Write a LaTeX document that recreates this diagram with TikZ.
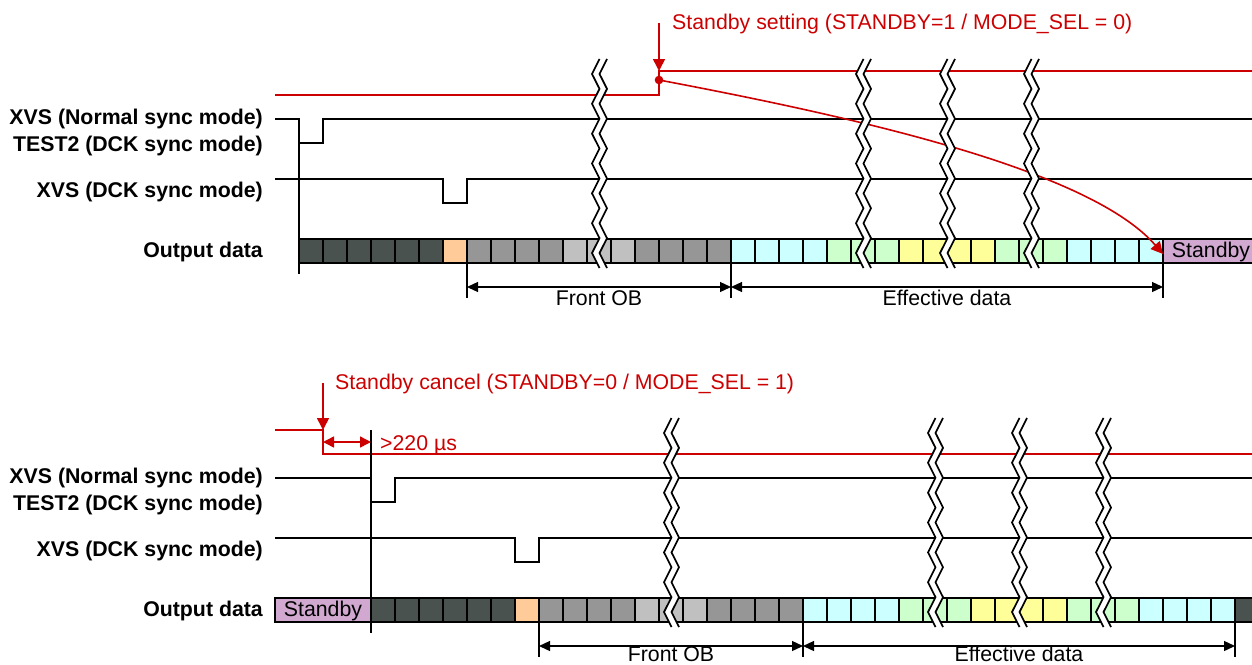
\documentclass[tikz,border=0pt]{standalone}
\usepackage{fontspec}
\setmainfont{Liberation Sans}
\usetikzlibrary{arrows.meta}
\definecolor{rd}{HTML}{CC0000}
\definecolor{cdark}{HTML}{4A5250}
\definecolor{corange}{HTML}{FFCC99}
\definecolor{cgray}{HTML}{969696}
\definecolor{clight}{HTML}{C0C0C0}
\definecolor{ccyan}{HTML}{CCFFFF}
\definecolor{cgreen}{HTML}{CCFFCC}
\definecolor{cyellow}{HTML}{FFFF99}
\definecolor{cstandby}{HTML}{D0A8D0}
\tikzset{
  sig/.style={line width=1.4pt,black,line join=miter},
  redsig/.style={line width=1.5pt,rd},
  cell/.style={draw=black,line width=1.5pt},
  dim/.style={line width=1.3pt,black,{Triangle[length=11pt,width=10pt]}-{Triangle[length=11pt,width=10pt]}},
  ext/.style={line width=1.3pt,black},
  lab/.style={font=\fontsize{21.3pt}{24pt}\selectfont\bfseries,anchor=base east,inner sep=0pt},
  txt/.style={font=\fontsize{21.3pt}{24pt}\selectfont,inner sep=0pt,anchor=base},
  redtxt/.style={txt,text=rd,anchor=base west},
  redarrow/.style={line width=1.6pt,rd,-{Triangle[length=12pt,width=12pt]}},
  redarrows/.style={line width=1.5pt,rd,{Triangle[length=11pt,width=11pt]}-{Triangle[length=11pt,width=11pt]}},
  brk/.style={line width=1.7pt,black,line join=miter},
}
% break mark
\def\zz{-- ++(-7.5,14.93) -- ++(7.5,14.93)}
\def\zr{-- ++(-7.5,-14.93) -- ++(7.5,-14.93)}
\newcommand{\brkmark}[2]{%
  \fill[white] (#1+7.5,#2) \zz\zz\zz\zz\zz\zz\zz -- ++(7.5,0) \zr\zr\zr\zr\zr\zr\zr -- cycle;
  \draw[brk] (#1+7.5,#2) \zz\zz\zz\zz\zz\zz\zz;
  \draw[brk] (#1+15,#2) \zz\zz\zz\zz\zz\zz\zz;
}
% cells: x0, ytop
\newcommand{\cellrun}[5]{% x0, ytop, first index, last index, colour
  \foreach \k in {#3,...,#4} {
    \filldraw[cell,fill=#5] ({#1+24*\k},#2) rectangle ({#1+24*\k+24},#2+24);
  }
}
\newcommand{\allcells}[2]{%
  \cellrun{#1}{#2}{0}{5}{cdark}
  \cellrun{#1}{#2}{6}{6}{corange}
  \cellrun{#1}{#2}{7}{10}{cgray}
  \cellrun{#1}{#2}{11}{13}{clight}
  \cellrun{#1}{#2}{14}{17}{cgray}
  \cellrun{#1}{#2}{18}{21}{ccyan}
  \cellrun{#1}{#2}{22}{24}{cgreen}
  \cellrun{#1}{#2}{25}{28}{cyellow}
  \cellrun{#1}{#2}{29}{31}{cgreen}
  \cellrun{#1}{#2}{32}{35}{ccyan}
}
\begin{document}
\begin{tikzpicture}[x=1pt,y=-1pt]
\useasboundingbox (0,0) rectangle (1252,664);
\clip (0,0) rectangle (1252,664);

% ---------- top diagram ----------
\node[lab] (t1) at (263,124) {XVS (Normal sync mode)};
\node[lab] (t2) at (263,151) {TEST2 (DCK sync mode)};
\node[lab] (t3) at (263,197) {XVS (DCK sync mode)};
\node[lab] (t4) at (263,257) {Output data};
\node[redtxt] (tr) at (672,29.5) {Standby setting (STANDBY=1 / MODE\_SEL = 0)};

\draw[redsig] (275,95) -- (659,95) -- (659,71) -- (1252,71);
\draw[sig] (275,119) -- (299,119) -- (299,143) -- (323,143) -- (323,119) -- (1252,119);
\draw[sig] (275,179) -- (443,179) -- (443,203) -- (467,203) -- (467,179) -- (1252,179);

\allcells{299}{239}
\filldraw[cell,fill=cstandby] (1163,239) rectangle (1262,263);
\node[txt] (ts) at (1211,257) {Standby};
\draw[ext] (299,119) -- (299,274);

\coordinate (a1) at (467,287); \coordinate (a2) at (731,287); \coordinate (a3) at (1163,287);
\draw[ext] (467,263) -- (467,298);
\draw[ext] (731,263) -- (731,298);
\draw[ext] (1163,263) -- (1163,298);
\draw[dim] (a1) -- (a2);
\draw[dim] (a2) -- (a3);
\node[txt] (tf) at (599,305) {Front OB};
\node[txt] (te) at (947,305) {Effective data};

\coordinate (tdot) at (659,80);
\coordinate (tarr) at (659,71);
\coordinate (tst) at (659,23);
\coordinate (tend) at (1163,254);
\draw[redarrow] (tst) -- (tarr);
\draw[redarrow] (tdot) .. controls (860,118) and (1090,170) .. (tend);
\fill[rd] (tdot) circle (4.3);

\brkmark{592}{59}
\brkmark{856}{59}
\brkmark{940}{59}
\brkmark{1024}{59}

% ---------- bottom diagram ----------
\node[lab] (b1) at (263,483) {XVS (Normal sync mode)};
\node[lab] (b2) at (263,510) {TEST2 (DCK sync mode)};
\node[lab] (b3) at (263,556) {XVS (DCK sync mode)};
\node[lab] (b4) at (263,616) {Output data};
\node[redtxt] (br) at (335,389) {Standby cancel (STANDBY=0 / MODE\_SEL = 1)};
\node[redtxt] (bt) at (380,450) {>220 µs};

\draw[redsig] (275,430) -- (323,430) -- (323,454) -- (1252,454);
\draw[sig] (275,478) -- (371,478) -- (371,502) -- (395,502) -- (395,478) -- (1252,478);
\draw[sig] (275,538) -- (515,538) -- (515,562) -- (539,562) -- (539,538) -- (1252,538);

\allcells{371}{598}
\filldraw[cell,fill=cstandby] (275,598) rectangle (371,622);
\node[txt] (bs) at (323,616) {Standby};
\filldraw[cell,fill=cdark] (1235,598) rectangle (1262,622);
\draw[ext] (371,430) -- (371,633);

\coordinate (c1) at (539,646); \coordinate (c2) at (803,646); \coordinate (c3) at (1235,646);
\draw[ext] (539,622) -- (539,657);
\draw[ext] (803,622) -- (803,657);
\draw[ext] (1235,622) -- (1235,657);
\draw[dim] (c1) -- (c2);
\draw[dim] (c2) -- (c3);
\node[txt] (bf) at (671,661) {Front OB};
\node[txt] (be) at (1019,661) {Effective data};

\coordinate (bst) at (323,383);
\coordinate (barr) at (323,430);
\draw[redarrow] (bst) -- (barr);
\coordinate (d1) at (323,442); \coordinate (d2) at (371,442);
\draw[redarrows] (d1) -- (d2);

\brkmark{664}{418}
\brkmark{928}{418}
\brkmark{1012}{418}
\brkmark{1096}{418}
\end{tikzpicture}
\end{document}
